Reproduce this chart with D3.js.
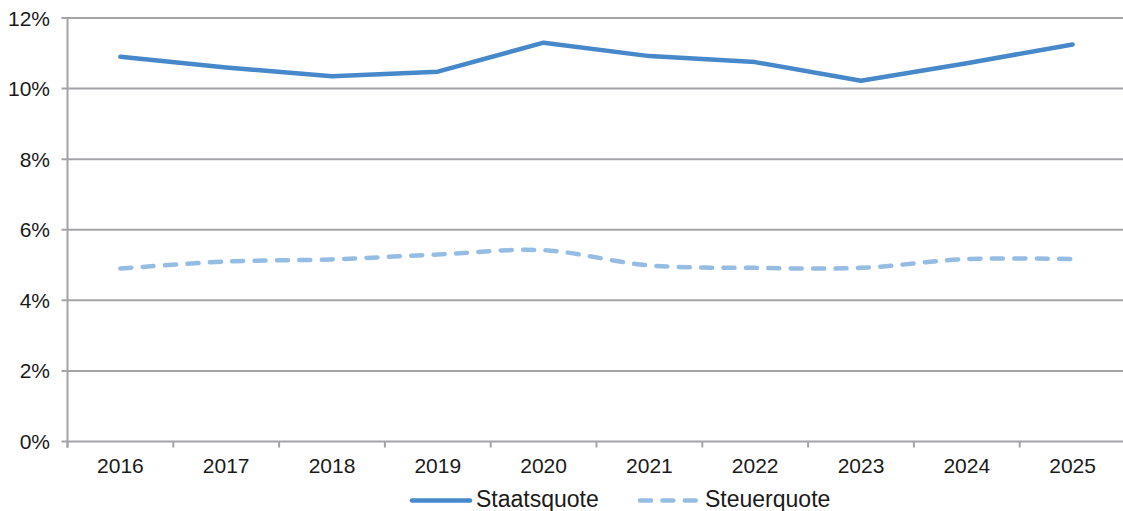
<!DOCTYPE html>
<html><head><meta charset="utf-8">
<script src="https://cdn.jsdelivr.net/npm/d3@7"></script>
<style>body{margin:0;background:#fff}svg{display:block}text{font-family:"Liberation Sans",Arial,sans-serif;fill:#1a1a1a}</style>
</head><body>
<svg id="c" width="1123" height="511"></svg>
<script>
const years = ["2016","2017","2018","2019","2020","2021","2022","2023","2024","2025"];
const staatsquote = [10.9, 10.6, 10.35, 10.48, 11.3, 10.92, 10.75, 10.22, 10.72, 11.25];
const steuerquote = [4.9, 5.1, 5.16, 5.3, 5.42, 4.99, 4.92, 4.92, 5.17, 5.17];
const yTicks = [0, 2, 4, 6, 8, 10, 12];
const seriesNames = ["Staatsquote", "Steuerquote"];

const svg = d3.select("#c");
const L = 67.5, R = 1125.5, T = 18, B = 441.5;
const x = d3.scaleBand().domain(years).range([L, R]);
const y = d3.scaleLinear().domain([0, 12]).range([B, T]);
const grid = "#A4A4A8";

// gridlines
svg.append("g").selectAll("line").data(yTicks).join("line")
  .attr("x1", L - 6).attr("x2", R).attr("y1", d => y(d)).attr("y2", d => y(d))
  .attr("stroke", grid).attr("stroke-width", 2);
// y axis line
svg.append("line").attr("x1", L).attr("x2", L).attr("y1", T).attr("y2", B + 6)
  .attr("stroke", grid).attr("stroke-width", 2);
// x ticks at band boundaries
const bounds = years.map(d => x(d)).concat([x(years[years.length-1]) + x.bandwidth()]);
svg.append("g").selectAll("line").data(bounds).join("line")
  .attr("x1", d => d).attr("x2", d => d).attr("y1", B).attr("y2", B + 6)
  .attr("stroke", grid).attr("stroke-width", 2);

// y labels
svg.append("g").selectAll("text").data(yTicks).join("text")
  .attr("x", 50).attr("y", d => y(d)).attr("dy", "0.36em").attr("text-anchor", "end")
  .style("font-size", "21px").text(d => d + "%");
// x labels
svg.append("g").selectAll("text").data(years).join("text")
  .attr("x", d => x(d) + x.bandwidth()/2).attr("y", 473).attr("text-anchor", "middle")
  .style("font-size", "21px").text(d => d);

const cx = (d, i) => x(years[i]) + x.bandwidth()/2;
const solidColor = "#4688CA", dashColor = "#95BDE4";
const line1 = d3.line().x(cx).y(d => y(d));
const line2 = d3.line().x(cx).y(d => y(d)).curve(d3.curveCatmullRom.alpha(0.5));

svg.append("path").attr("d", line2(steuerquote)).attr("fill", "none")
  .attr("stroke", dashColor).attr("stroke-width", 4.5).attr("stroke-linecap", "round")
  .attr("stroke-dasharray", "11,11.4");
svg.append("path").attr("d", line1(staatsquote)).attr("fill", "none")
  .attr("stroke", solidColor).attr("stroke-width", 4.5).attr("stroke-linecap", "round")
  .attr("stroke-linejoin", "round");

// legend
const lg = svg.append("g");
lg.append("line").attr("x1", 412).attr("x2", 470).attr("y1", 500.5).attr("y2", 500.5)
  .attr("stroke", solidColor).attr("stroke-width", 4.5).attr("stroke-linecap", "round");
lg.append("text").attr("x", 476).attr("y", 507).style("font-size", "23px").text(seriesNames[0]);
lg.append("line").attr("x1", 640).attr("x2", 696).attr("y1", 500.5).attr("y2", 500.5)
  .attr("stroke", dashColor).attr("stroke-width", 4.5).attr("stroke-linecap", "round")
  .attr("stroke-dasharray", "11,11.4");
lg.append("text").attr("x", 705).attr("y", 507).style("font-size", "23px").text(seriesNames[1]);
</script>
</body></html>
